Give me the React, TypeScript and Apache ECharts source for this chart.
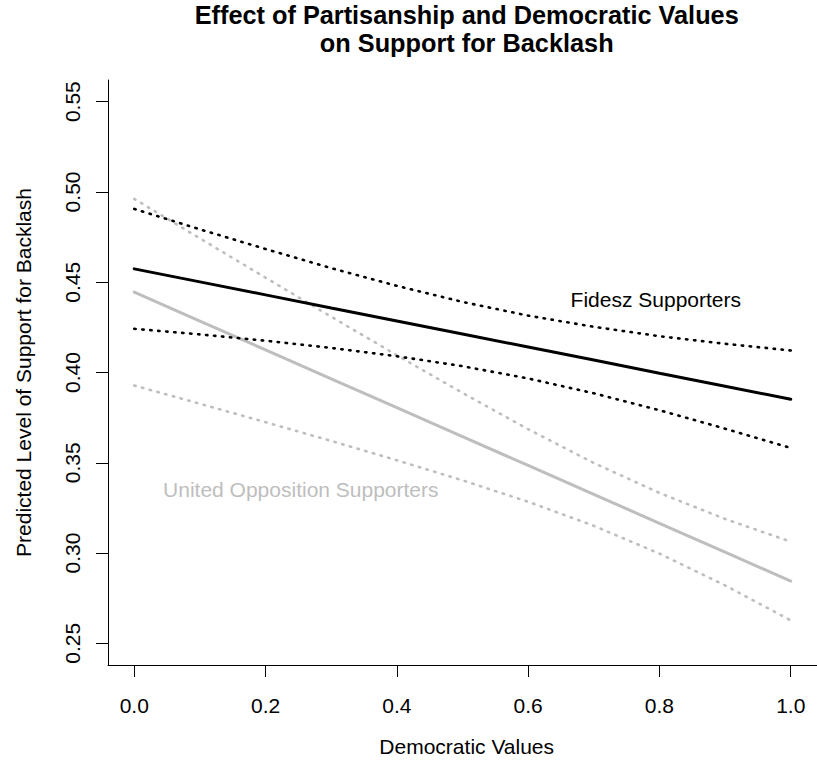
import React, { useEffect, useRef } from "react";
import * as echarts from "echarts";

const xVals = [0, 0.1, 0.2, 0.3, 0.4, 0.5, 0.6, 0.7, 0.8, 0.9, 1.0];
const fideszFit = [0.4574, 0.4502, 0.443, 0.4357, 0.4285, 0.4213, 0.4141, 0.4069, 0.3996, 0.3924, 0.3852];
const fideszUpper = [0.4906, 0.4793, 0.4684, 0.4578, 0.448, 0.4391, 0.4315, 0.4253, 0.4201, 0.4159, 0.4122];
const fideszLower = [0.4242, 0.4211, 0.4176, 0.4136, 0.409, 0.4035, 0.3967, 0.3885, 0.3791, 0.3689, 0.3582];
const oppFit = [0.4445, 0.4285, 0.4125, 0.3965, 0.3805, 0.3645, 0.3485, 0.3325, 0.3165, 0.3005, 0.2845];
const oppUpper = [0.4962, 0.4743, 0.4525, 0.4309, 0.4096, 0.3887, 0.3686, 0.3499, 0.3333, 0.3189, 0.3063];
const oppLower = [0.3928, 0.3827, 0.3725, 0.3621, 0.3514, 0.3403, 0.3284, 0.3151, 0.2997, 0.2821, 0.2627];

const xTicks = [0, 0.2, 0.4, 0.6, 0.8, 1.0];
const yTicks = [0.25, 0.3, 0.35, 0.4, 0.45, 0.5, 0.55];

const titleLines = ["Effect of Partisanship and Democratic Values", "on Support for Backlash"];
const xName = "Democratic Values";
const yName = "Predicted Level of Support for Backlash";
const fideszLabel = "Fidesz Supporters";
const oppLabel = "United Opposition Supporters";

const FONT = "'Liberation Sans', Arial, Helvetica, sans-serif";
const GREY = "#bebebe";
const FS = 21;
const TFS = 25.3;

function pairs(ys: number[]) {
  return xVals.map((x, i) => [x, ys[i]]);
}

export default function App() {
  const ref = useRef<HTMLDivElement>(null);
  useEffect(() => {
    if (!ref.current) return;
    const chart = echarts.init(ref.current, null, { renderer: "svg" });
    const solid = (color: string) => ({ color, width: 3, type: "solid" as const, cap: "round" as const });
    const dashed = (color: string) => ({ color, width: 2.6, type: [1.4, 6.6], cap: "round" as const });
    const mk = (name: string, ys: number[], lineStyle: any, z: number) => ({
      type: "line",
      name,
      data: pairs(ys),
      showSymbol: false,
      symbol: "none",
      smooth: false,
      lineStyle,
      z,
      silent: true,
    });
    chart.setOption({
      animation: false,
      backgroundColor: "#ffffff",
      grid: { left: 108, right: -8.5, top: 80, bottom: 102, containLabel: false },
      xAxis: {
        type: "value",
        min: -0.04,
        max: 1.04,
        axisLine: { show: true, onZero: false, lineStyle: { color: "#000", width: 1 } },
        axisTick: { show: true, length: 12, customValues: xTicks, lineStyle: { color: "#000", width: 1 } },
        axisLabel: {
          show: true,
          customValues: xTicks,
          formatter: (v: number) => v.toFixed(1),
          fontSize: FS,
          fontFamily: FONT,
          color: "#000",
          margin: 29.5,
        },
        splitLine: { show: false },
      },
      yAxis: {
        type: "value",
        min: 0.238,
        max: 0.562,
        axisLine: { show: true, onZero: false, lineStyle: { color: "#000", width: 1 } },
        axisTick: { show: true, length: 12, customValues: yTicks, lineStyle: { color: "#000", width: 1 } },
        axisLabel: {
          show: true,
          customValues: yTicks,
          formatter: (v: number) => v.toFixed(2),
          fontSize: FS,
          fontFamily: FONT,
          color: "#000",
          rotate: 90,
          margin: 25.5,
        },
        splitLine: { show: false },
      },
      series: [
        mk("United Opposition upper", oppUpper, dashed(GREY), 2),
        mk("United Opposition lower", oppLower, dashed(GREY), 2),
        mk("United Opposition", oppFit, solid(GREY), 2),
        mk("Fidesz upper", fideszUpper, dashed("#000"), 3),
        mk("Fidesz lower", fideszLower, dashed("#000"), 3),
        mk("Fidesz", fideszFit, solid("#000"), 3),
      ],
      graphic: [
        {
          type: "text",
          x: 466.7,
          y: 14.5,
          style: { text: titleLines[0], fontSize: TFS, fontWeight: "bold", fontFamily: FONT, fill: "#000", align: "center", verticalAlign: "middle" },
        },
        {
          type: "text",
          x: 466.7,
          y: 42.9,
          style: { text: titleLines[1], fontSize: TFS, fontWeight: "bold", fontFamily: FONT, fill: "#000", align: "center", verticalAlign: "middle" },
        },
        {
          type: "text",
          x: 466.7,
          y: 746.4,
          style: { text: xName, fontSize: FS, fontFamily: FONT, fill: "#000", align: "center", verticalAlign: "middle" },
        },
        {
          type: "text",
          x: 23,
          y: 372.5,
          rotation: Math.PI / 2,
          style: { text: yName, fontSize: FS, fontFamily: FONT, fill: "#000", align: "center", verticalAlign: "middle" },
        },
        {
          type: "text",
          x: 655.8,
          y: 299,
          style: { text: fideszLabel, fontSize: FS, fontFamily: FONT, fill: "#000", align: "center", verticalAlign: "middle" },
        },
        {
          type: "text",
          x: 300.8,
          y: 489,
          style: { text: oppLabel, fontSize: FS, fontFamily: FONT, fill: GREY, align: "center", verticalAlign: "middle" },
        },
      ],
    });
    return () => chart.dispose();
  }, []);
  return (
    <div
      ref={ref}
      style={{ position: "absolute", left: 0, top: 0, width: 817, height: 767, background: "#fff" }}
    />
  );
}
